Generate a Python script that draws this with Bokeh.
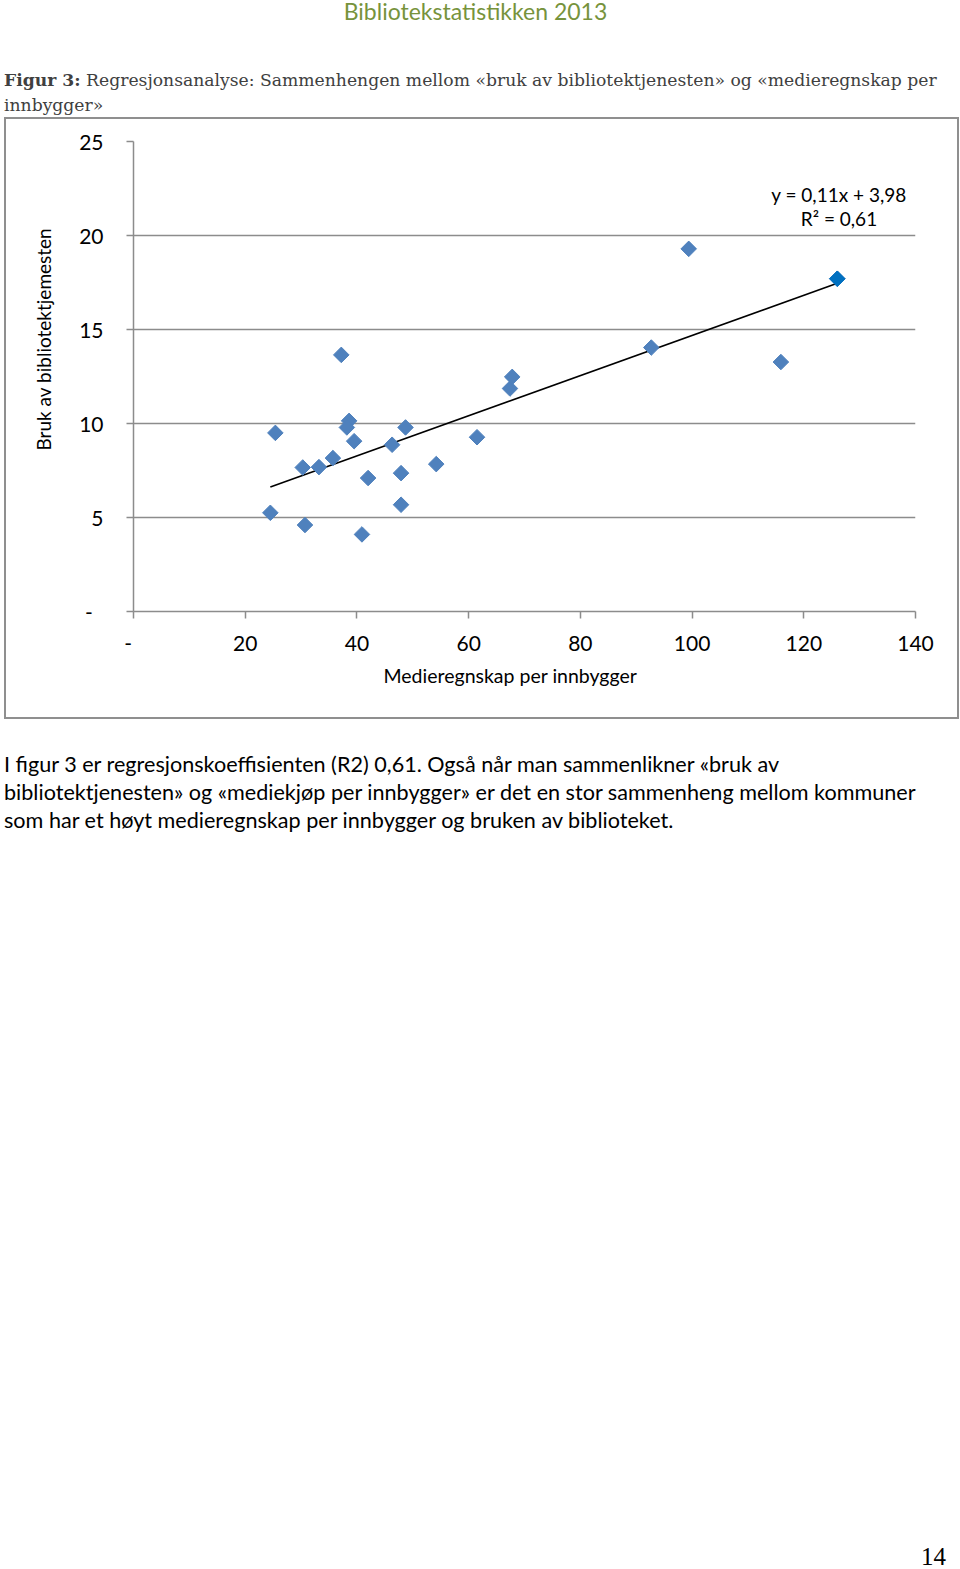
import numpy as np
from bokeh.plotting import figure
from bokeh.models import Div, FixedTicker, Label, Range1d, Title
from bokeh.layouts import column, row
from bokeh.embed import file_html
from bokeh.resources import INLINE

# ---------------- data ----------------
medieregnskap = [24.5, 25.4, 30.3, 30.7, 33.2, 35.7, 37.2, 38.6, 38.2, 39.5, 40.9, 42.0,
                 46.3, 47.9, 47.9, 48.7, 54.2, 61.5, 67.4, 67.8, 92.7, 99.4, 115.9, 126.0]
bruk = [5.25, 9.5, 7.66, 4.6, 7.68, 8.16, 13.65, 10.14, 9.79, 9.06, 4.1, 7.1,
        8.87, 7.36, 5.68, 9.79, 7.84, 9.27, 11.86, 12.48, 14.04, 19.29, 13.27, 17.7]
highlight_index = 23
x_ticks = [0, 20, 40, 60, 80, 100, 120, 140]
y_ticks = [0, 5, 10, 15, 20, 25]
zero_label = "-\u00a0\u00a0"
equation_text = "y = 0,11x + 3,98"
r2_text = "R² = 0,61"
x_title = "Medieregnskap per innbygger"
y_title = "Bruk av bibliotektjemesten"
header_text = "Bibliotekstatistikken 2013"
caption_bold = "Figur 3:"
caption_rest = "Regresjonsanalyse: Sammenhengen mellom «bruk av bibliotektjenesten» og «medieregnskap per<br>innbygger»"
paragraph_lines = [
    "I figur 3 er regresjonskoeffisienten (R2) 0,61. Også når man sammenlikner «bruk av",
    "bibliotektjenesten» og «mediekjøp per innbygger» er det en stor sammenheng mellom kommuner",
    "som har et høyt medieregnskap per innbygger og bruken av biblioteket.",
]
page_number = "14"

# ---------------- styles ----------------
SANS = "Lato"
SERIF = "DejaVu Serif"
PAGE_SERIF = "Liberation Serif"
GRID = "#8c8c8c"
BORDER = "#8f8f8f"
BLUE = "#4F81BD"
BLUE_DARK = "#0070C0"

top_div = Div(
    width=950, height=117, margin=0,
    text=(
        f'<div style="font-family:{SANS};font-weight:400;font-size:23px;color:#77933C;'
        f'text-align:center;width:943px;line-height:22px;">{header_text}</div>'
        f'<div style="font-family:\'{SERIF}\';font-size:17.2px;color:#404040;line-height:24.5px;'
        f'margin-top:46px;white-space:nowrap;"><b>{caption_bold}</b> {caption_rest}</div>'
    ),
)

p = figure(
    width=951, height=598,
    x_range=Range1d(0, 140), y_range=Range1d(0, 25),
    output_backend="svg", toolbar_location=None,
    min_border_left=127, min_border_right=42, min_border_top=22, min_border_bottom=106,
    outline_line_color=None, background_fill_color="white", border_fill_color="white",
    margin=0,
)

# axes
for ax in (p.xaxis[0], p.yaxis[0]):
    ax.axis_line_color = GRID
    ax.axis_line_width = 1.5
    ax.major_tick_line_color = GRID
    ax.major_tick_line_width = 1.5
    ax.major_tick_out = 7
    ax.major_tick_in = 0
    ax.minor_tick_line_color = None
    ax.major_label_text_font = SANS
    ax.major_label_text_font_size = "21px"
    ax.major_label_text_color = "black"

p.xaxis.ticker = FixedTicker(ticks=x_ticks)
p.yaxis.ticker = FixedTicker(ticks=y_ticks)
p.xaxis.major_label_overrides = {0: zero_label}
p.yaxis.major_label_overrides = {0: zero_label}
p.xaxis.major_label_standoff = 11
p.yaxis.major_label_standoff = 23
p.yaxis.major_label_orientation = "horizontal"

p.xgrid.grid_line_color = None
p.ygrid.grid_line_color = GRID
p.ygrid.grid_line_width = 1.5

# axis titles, off-centre as in the original
p.add_layout(Title(text=y_title, align="left", offset=161, standoff=44,
                   text_font=SANS, text_font_size="19px", text_font_style="normal",
                   text_color="black"), "left")
p.add_layout(Title(text=x_title, align="left", offset=250, standoff=8,
                   text_font=SANS, text_font_size="19.5px", text_font_style="normal",
                   text_color="black"), "below")

# trend line from least squares fit
slope, intercept = np.polyfit(medieregnskap, bruk, 1)
xs = [min(medieregnskap), max(medieregnskap)]
p.line(xs, [slope * v + intercept for v in xs], line_color="black", line_width=1.6)

# markers
p.scatter(medieregnskap, bruk, marker="square", angle=np.pi / 4, size=11,
          fill_color=BLUE, line_color=BLUE)
p.scatter([medieregnskap[highlight_index]], [bruk[highlight_index]], marker="square",
          angle=np.pi / 4, size=11, fill_color=BLUE_DARK, line_color=BLUE_DARK)

p.add_layout(Label(x=126.3, y=22.2, text=equation_text, text_font=SANS, text_font_size="19px",
                   text_align="center", text_baseline="middle", text_color="black"))
p.add_layout(Label(x=126.3, y=20.9, text=r2_text, text_font=SANS, text_font_size="19px",
                   text_align="center", text_baseline="middle", text_color="black"))


def bar(w, h):
    return Div(width=w, height=h, margin=0, text="", styles={"background-color": BORDER})


chart_box = column(
    bar(955, 2),
    row(bar(2, 598), p, bar(2, 598), spacing=0, margin=0),
    bar(955, 2),
    spacing=0, margin=0,
)

para_html = "<br>".join(paragraph_lines)
bottom_div = Div(
    width=950, height=848, margin=0,
    text=(
        f'<div style="font-family:{SANS};font-size:21.6px;color:#000;line-height:28px;'
        f'margin-top:31px;white-space:nowrap;">{para_html}</div>'
        f'<div style="font-family:\'{PAGE_SERIF}\';font-size:25px;color:#000;line-height:10px;'
        f'margin-top:718px;padding-left:917px;">{page_number}</div>'
    ),
)

layout = column(top_div, chart_box, bottom_div, margin=(0, 0, 0, 4), spacing=0)

open("out.html", "w").write(file_html(layout, INLINE))
